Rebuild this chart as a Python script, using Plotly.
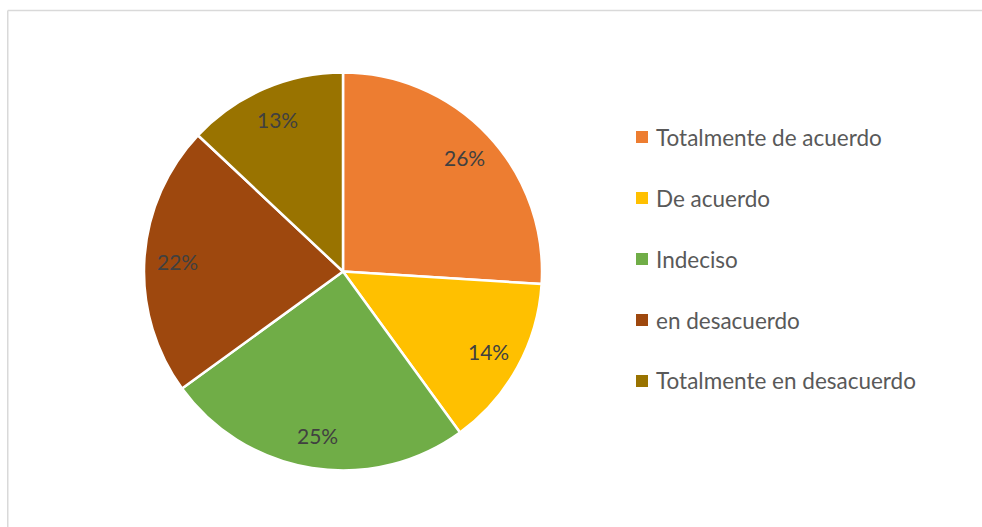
import math
import plotly.graph_objects as go

labels = ["Totalmente de acuerdo", "De acuerdo", "Indeciso", "en desacuerdo", "Totalmente en desacuerdo"]
values = [26, 14, 25, 22, 13]
colors = ["#ED7D31", "#FFC000", "#70AD47", "#9E480E", "#997300"]

W, H = 982, 527
cx, cy, R = 343, 271.5, 199
FONT = "Lato"

fig = go.Figure(go.Pie(
    labels=labels, values=values, sort=False, direction="clockwise", rotation=0,
    marker=dict(colors=colors, line=dict(color="white", width=2.5)),
    textinfo="none", showlegend=False,
    domain=dict(x=[(cx - R) / W, (cx + R) / W], y=[1 - (cy + R) / H, 1 - (cy - R) / H]),
))

total = sum(values)
annotations = []
cum = 0
for v in values:
    mid = (cum + v / 2) / total * 2 * math.pi
    cum += v
    r = 0.835 * R
    px = cx + r * math.sin(mid)
    py = cy - r * math.cos(mid)
    annotations.append(dict(x=px / W, y=1 - py / H, xref="paper", yref="paper",
                            xanchor="center", yanchor="middle",
                            text=f"{round(100 * v / total)}%", showarrow=False,
                            font=dict(family=FONT, size=21, color="#404040")))

fx, fy = 7.75, 10.5
shapes = [
    dict(type="line", xref="paper", yref="paper", x0=fx / W, x1=1.01, y0=1 - fy / H, y1=1 - fy / H,
         line=dict(color="#D9D9D9", width=1.5)),
    dict(type="line", xref="paper", yref="paper", x0=fx / W, x1=fx / W, y0=1 - fy / H, y1=-0.01,
         line=dict(color="#D9D9D9", width=1.5)),
]
for i, (lab, col) in enumerate(zip(labels, colors)):
    yc = 137 + 61 * i
    shapes.append(dict(type="rect", xref="paper", yref="paper", x0=636 / W, x1=648 / W,
                       y0=1 - (yc + 6) / H, y1=1 - (yc - 6) / H, fillcolor=col, line=dict(width=0)))
    annotations.append(dict(x=654 / W, y=1 - yc / H, xref="paper", yref="paper", text=lab,
                            showarrow=False, xanchor="left", yanchor="middle",
                            font=dict(family=FONT, size=22.5, color="#595959")))

fig.update_layout(width=W, height=H, margin=dict(l=0, r=0, t=0, b=0),
                  paper_bgcolor="white", plot_bgcolor="white",
                  annotations=annotations, shapes=shapes)
fig.write_html("out.html", config={"displayModeBar": False},
               post_script="document.body.style.margin='0';document.body.style.overflow='hidden';")
